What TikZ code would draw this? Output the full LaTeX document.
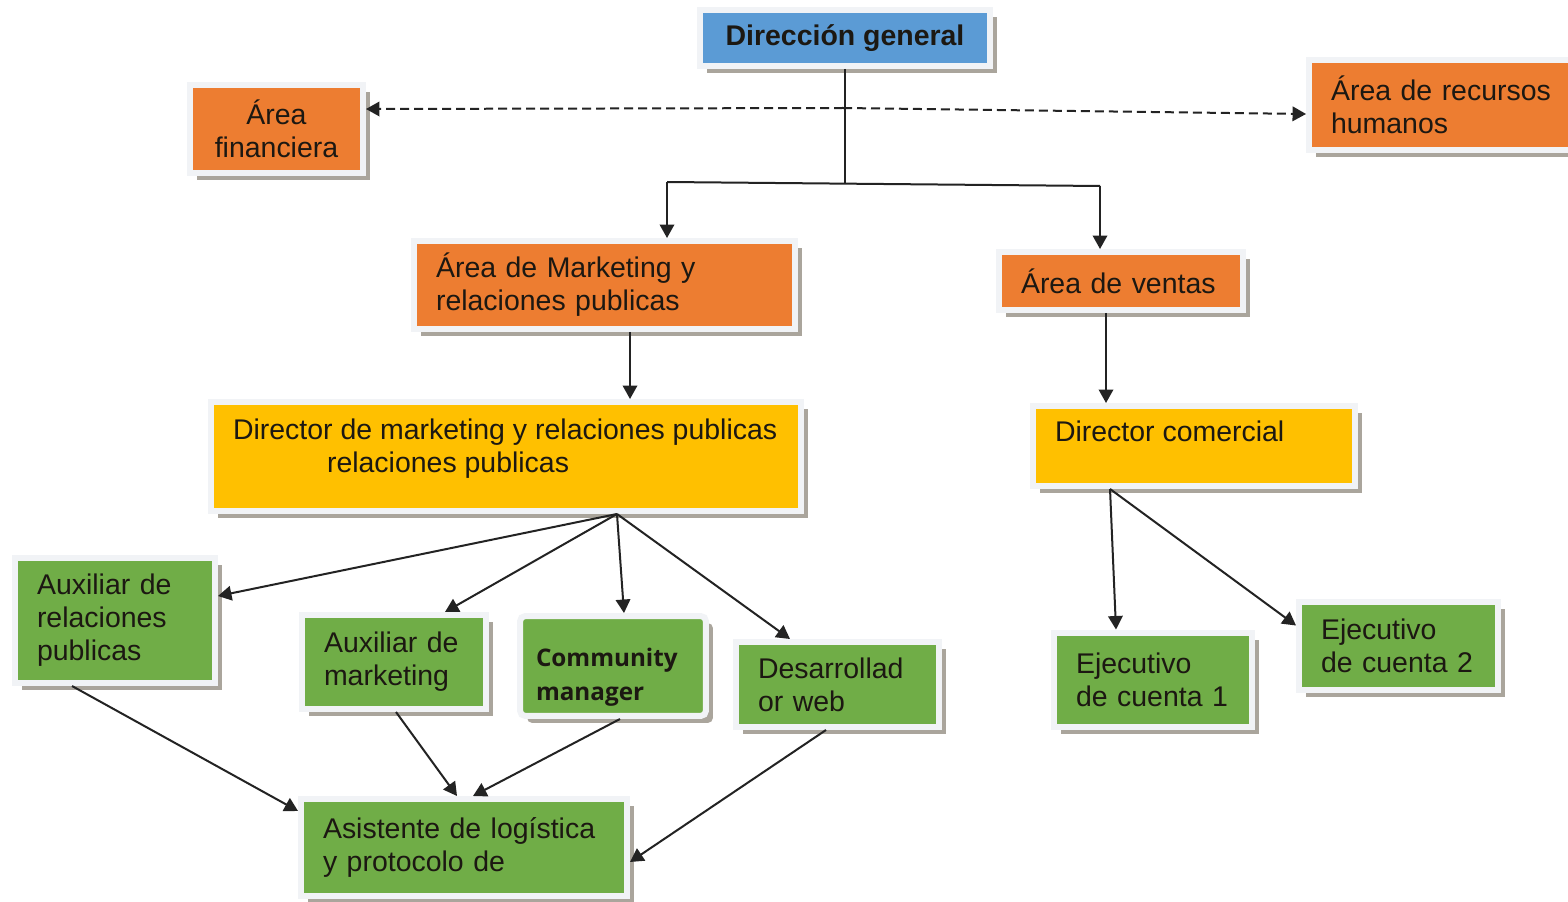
\documentclass[tikz,border=0pt]{standalone}
\usepackage{fontspec}
\setmainfont{Liberation Sans}
\newfontfamily\cmfont{Open Sans}
\definecolor{dgblue}{RGB}{91,155,213}
\definecolor{orgcol}{RGB}{237,125,49}
\definecolor{ylwcol}{RGB}{255,192,0}
\definecolor{grncol}{RGB}{112,173,71}
\definecolor{framecol}{RGB}{241,243,246}
\definecolor{shadowcol}{RGB}{170,165,156}
\definecolor{textcol}{RGB}{28,24,18}
\definecolor{linecol}{RGB}{35,35,35}
\usetikzlibrary{arrows.meta,positioning,shadows,calc}

\begin{document}
\begin{tikzpicture}[x=0.02cm, y=-0.02cm,
    box/.style={rectangle, draw=framecol, line width=0.12cm, inner xsep=0.44cm, inner ysep=0.1cm,
      align=left, text=textcol, font=\fontsize{16.2}{18.8}\selectfont,
      drop shadow={shadow xshift=0.14cm, shadow yshift=-0.14cm, fill=shadowcol, opacity=1}},
    arr/.style={-{Triangle[length=0.27cm,width=0.29cm]}, line width=0.04cm, draw=linecol},
    link/.style={line width=0.04cm, draw=linecol},
    dasharr/.style={-{Triangle[length=0.27cm,width=0.29cm]}, line width=0.04cm, draw=linecol,
      dash pattern=on 0.18cm off 0.1cm}
  ]
    \useasboundingbox[fill=white] (0,0) rectangle (1568,902);
    \clip (0,0) rectangle (1568,902);
    % Top level
    \node[box, fill=dgblue, align=center, font=\fontsize{16.2}{18.8}\selectfont\bfseries,
          minimum width=5.8cm, minimum height=1.12cm] (dg) at (845,38) {Dirección general};
    \node[box, fill=orgcol, align=center, minimum width=3.46cm, minimum height=1.76cm]
      (fin) at (276.5,129) {Área\\financiera};
    \node[box, fill=orgcol, text width=5.4cm, minimum height=1.8cm]
      (rrhh) at (1466,105) {Área de recursos\\humanos};
    % Areas
    \node[box, fill=orgcol, text width=6.74cm, minimum height=1.76cm]
      (mkt) at (604.5,285) {Área de Marketing y\\relaciones publicas};
    \node[box, fill=orgcol, text width=4.0cm, minimum height=1.16cm]
      (vent) at (1121,281) {Área de ventas};
    % Directors
    \node[box, fill=ylwcol, inner ysep=0.34cm] (dirmkt) at (506,456.5)
      {\parbox[c][1.5cm][t]{10.92cm}{\raggedright\mbox{Director de marketing y relaciones publicas}\\
       \hspace*{1.88cm}relaciones publicas}};
    \node[box, fill=ylwcol, inner ysep=0.29cm] (dircom) at (1194,446)
      {\parbox[c][1.02cm][t]{5.56cm}{Director comercial}};
    % Staff
    \node[box, fill=grncol, text width=3.12cm, minimum height=2.5cm]
      (auxrp) at (115,620.5) {Auxiliar de\\relaciones\\publicas};
    \node[box, fill=grncol, text width=2.8cm, minimum height=1.88cm]
      (auxmk) at (394,662) {Auxiliar de\\marketing};
    \node[box, fill=grncol, inner xsep=0.32cm, inner ysep=0.64cm, rounded corners=3pt,
          font=\cmfont\bfseries\fontsize{13.8}{19.3}\selectfont]
      (cm) at (613,666) {\parbox[c][0.72cm][t]{3.08cm}{Community\\manager}};
    \node[box, fill=grncol, text width=3.18cm, minimum height=1.7cm]
      (dweb) at (837.5,684.5) {Desarrollad\\or web};
    \node[box, fill=grncol, text width=3.08cm, minimum height=1.9cm]
      (ej1) at (1153,680) {Ejecutivo\\de cuenta 1};
    \node[box, fill=grncol, text width=3.1cm, minimum height=1.78cm]
      (ej2) at (1398.5,646) {Ejecutivo\\de cuenta 2};
    \node[box, fill=grncol, text width=5.64cm, minimum height=1.94cm]
      (asis) at (464,847.5) {Asistente de logística\\y protocolo de};
    % Tree from the top
    \coordinate (jl) at (667,182);
    \coordinate (jr) at (1100,186);
    \coordinate (dashc) at (843,108);
    \draw[link] (dg.south) -- (dg.south |- 0,184);
    \draw[link] (jl) -- (jr);
    \draw[arr] (jl) -- (jl |- mkt.north);
    \draw[arr] (jr) -- (jr |- vent.north);
    \draw[dasharr] (dashc) -- ([yshift=0.4cm]fin.east);
    \draw[dasharr] (dashc) -- ([yshift=-0.18cm]rrhh.west);
    % Areas to directors
    \coordinate (mktout) at ([xshift=0.51cm]mkt.south);
    \draw[arr] (mktout) -- (mktout |- dirmkt.north);
    \coordinate (ventout) at ([xshift=-0.3cm]vent.south);
    \draw[arr] (ventout) -- (ventout |- dircom.north);
    % Directors to staff
    \coordinate (dmkout) at ([xshift=2.22cm]dirmkt.south);
    \draw[arr] (dmkout) -- ([yshift=0.49cm]auxrp.east);
    \draw[arr] (dmkout) -- ([xshift=1.02cm]auxmk.north);
    \draw[arr] (dmkout) -- ([xshift=0.22cm]cm.north);
    \draw[arr] (dmkout) -- ([xshift=-0.95cm]dweb.north);
    \coordinate (dcmout) at ([xshift=-1.68cm]dircom.south);
    \draw[arr] (dcmout) -- ([xshift=-0.74cm]ej1.north);
    \draw[arr] (dcmout) -- ([yshift=0.41cm]ej2.west);
    % Staff to assistant
    \draw[arr] ([xshift=-0.86cm]auxrp.south) -- ([yshift=0.73cm]asis.west);
    \draw[arr] ([xshift=0.04cm]auxmk.south) -- ([xshift=-0.14cm]asis.north);
    \draw[arr] ([xshift=0.14cm]cm.south) -- ([xshift=0.18cm]asis.north);
    \draw[arr] ([xshift=-0.23cm]dweb.south) -- ([yshift=-0.29cm]asis.east);
\end{tikzpicture}
\end{document}
